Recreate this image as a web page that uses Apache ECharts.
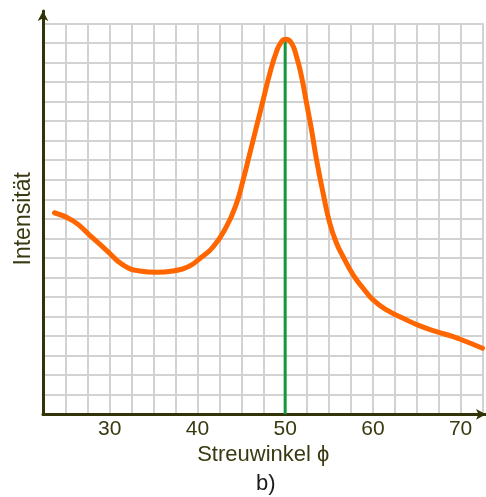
<!DOCTYPE html>
<html lang="de">
<head>
<meta charset="UTF-8">
<style>
    html, body { margin: 0; padding: 0; background: #fff; }
    #main { width: 486px; height: 497px; }
</style>
<script src="https://cdn.jsdelivr.net/npm/echarts@6/dist/echarts.min.js"></script>
</head>
<body>
<div id="main"></div>
<script>
    // Streuwinkel (x) und Intensität (y)
    var angles = [23.7, 25.8, 27.7, 29.6, 31.5, 33.4, 35.3, 37.2, 39.1, 40.3, 41.8, 43.3, 44.45, 45.2, 45.97,
        46.73, 47.49, 48.25, 49.01, 49.58, 50.08, 50.73, 51.3, 51.87, 52.44, 53.01, 53.58, 54.33, 55.09,
        55.86, 56.61, 57.75, 58.89, 60.03, 61.56, 63.46, 65.36, 67.26, 69.16, 70.69, 72.5];
    var intensity = [10.31, 9.9, 9.17, 8.4, 7.64, 7.33, 7.26, 7.33, 7.59, 7.98, 8.57, 9.6, 10.79, 11.98, 13.35,
        14.71, 16.08, 17.44, 18.55, 19.06, 19.18, 18.98, 18.29, 17.27, 15.91, 14.54, 13.01, 11.3, 9.77,
        8.75, 8.06, 7.13, 6.45, 5.85, 5.34, 4.91, 4.52, 4.23, 3.97, 3.71, 3.38];
    var peakAngle = [50, 50];
    var peakLine = [0, 19.18];
    var xTickLabels = [30, 40, 50, 60, 70];

    var textColor = '#3a3a12';
    var font = 'Liberation Sans, Arial, sans-serif';

    var curve = angles.map(function (a, i) { return [a, intensity[i]]; });
    var peak = peakAngle.map(function (a, i) { return [a, peakLine[i]]; });

    var chart = echarts.init(document.getElementById('main'));
    chart.setOption({
        animation: false,
        grid: [
            { left: 44, right: 3.5, top: 23.3, bottom: 82.7 },
            { left: 43, right: 0, top: 11, bottom: 82.7 }
        ],
        xAxis: [{
            gridIndex: 0,
            type: 'value',
            min: 22.5,
            max: 72.5,
            interval: 2.5,
            axisLine: { show: false },
            axisTick: { show: false },
            splitLine: { lineStyle: { color: '#d2d2d2', width: 2 } },
            axisLabel: {
                color: textColor,
                fontFamily: font,
                fontSize: 21,
                margin: 4,
                formatter: function (v) {
                    return xTickLabels.indexOf(v) >= 0 ? String(v) : '';
                }
            },
            name: 'Streuwinkel \u03d5',
            nameLocation: 'middle',
            nameGap: 30,
            nameTextStyle: { color: textColor, fontFamily: font, fontSize: 22 }
        }, {
            gridIndex: 1,
            type: 'value',
            min: 0,
            max: 1,
            axisLine: {
                lineStyle: { color: '#33330a', width: 3 },
                symbol: ['none', 'arrow'],
                symbolSize: [8, 10]
            },
            axisTick: { show: false },
            axisLabel: { show: false },
            splitLine: { show: false }
        }],
        yAxis: [{
            gridIndex: 0,
            type: 'value',
            min: 0,
            max: 20,
            interval: 1,
            axisLine: { show: false },
            axisTick: { show: false },
            axisLabel: { show: false },
            splitLine: { lineStyle: { color: '#d2d2d2', width: 2 } },
            name: 'Intensität',
            nameLocation: 'middle',
            nameGap: 9,
            nameTextStyle: { color: textColor, fontFamily: font, fontSize: 23 }
        }, {
            gridIndex: 1,
            type: 'value',
            min: 0,
            max: 1,
            axisLine: {
                lineStyle: { color: '#33330a', width: 3 },
                symbol: ['none', 'arrow'],
                symbolSize: [8, 10]
            },
            axisTick: { show: false },
            axisLabel: { show: false },
            splitLine: { show: false }
        }],
        graphic: [{
            type: 'text',
            left: 256,
            top: 473,
            style: { text: 'b)', fill: '#1a1a1a', font: '22px Liberation Sans, Arial, sans-serif' }
        }],
        series: [{
            type: 'line',
            xAxisIndex: 0,
            yAxisIndex: 0,
            data: peak,
            symbol: 'none',
            lineStyle: { color: '#12983a', width: 3 },
            z: 2
        }, {
            type: 'line',
            xAxisIndex: 0,
            yAxisIndex: 0,
            data: curve,
            smooth: 0.5,
            symbol: 'none',
            lineStyle: { color: '#ff6600', width: 5, cap: 'round' },
            z: 3
        }]
    });
</script>
</body>
</html>
